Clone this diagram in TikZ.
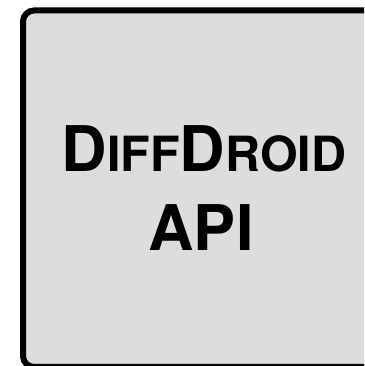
\documentclass[tikz,border=0pt]{standalone}
\usepackage{fontspec}
\setmainfont{TeX Gyre Heros}
\definecolor{boxgray}{HTML}{DCDDDF}
\begin{document}
\begin{tikzpicture}[x=1pt,y=1pt,
  boxstyle/.style={draw=black,line width=6pt,fill=boxgray,rounded corners=11pt},
  txt/.style={inner sep=0pt,anchor=base,font=\bfseries}]
\useasboundingbox (0,0) rectangle (364,366);
\begin{scope}
\clip (0,0) rectangle (364,366);
\draw[boxstyle] (23,-1) rectangle (400,355.5);
\end{scope}
\node[txt] (title) at (204,194) {{\fontsize{63}{63}\selectfont D}{\fontsize{48.5}{48.5}\selectfont IFF}{\fontsize{63}{63}\selectfont D}{\fontsize{48.5}{48.5}\selectfont ROID}};
\node[txt] (api) at (201,115) {\fontsize{63}{63}\selectfont API};
\end{tikzpicture}
\end{document}
